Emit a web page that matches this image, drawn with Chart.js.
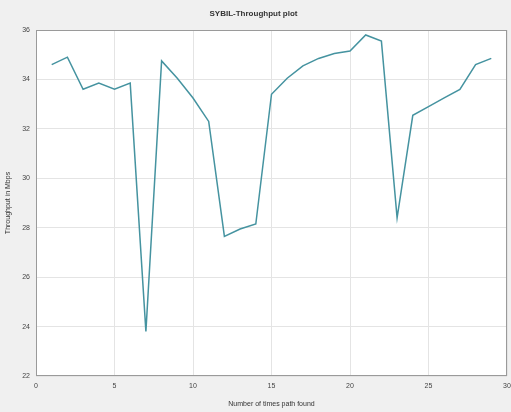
<!DOCTYPE html>
<html>
<head>
<meta charset="utf-8">
<script src="https://cdn.jsdelivr.net/npm/chart.js@4"></script>
<style>
  html, body { margin: 0; padding: 0; background: #f0f0f0; overflow: hidden; }
  canvas { display: block; }
</style>
</head>
<body>
<canvas id="chart" width="511" height="412"></canvas>
<script>
// data
const paths = [1, 2, 3, 4, 5, 6, 7, 8, 9, 10, 11, 12, 13, 14, 15, 16, 17, 18, 19, 20, 21, 22, 23, 24, 25, 26, 27, 28, 29];
const throughput = [34.6, 34.9, 33.6, 33.85, 33.6, 33.85, 23.8, 34.75, 34.05, 33.25, 32.3, 27.65, 27.95, 28.15,
                    33.4, 34.05, 34.55, 34.85, 35.05, 35.15, 35.8, 35.55, 28.4, 32.55, 32.9, 33.25, 33.6, 34.6, 34.85];
const xTicks = [0, 5, 10, 15, 20, 25, 30];
const yTicks = [22, 24, 26, 28, 30, 32, 34, 36];

// white plot area, matlab style
const plotBg = {
    id: "plotBg",
    beforeDraw(c) {
        const a = c.chartArea;
        c.ctx.save();
        c.ctx.fillStyle = "#ffffff";
        c.ctx.fillRect(a.left, a.top, a.right - a.left, a.bottom - a.top);
        c.ctx.restore();
    },
    afterDraw(c) {
        const a = c.chartArea;
        c.ctx.save();
        c.ctx.strokeStyle = "#9a9a9a";
        c.ctx.lineWidth = 1;
        c.ctx.strokeRect(a.left + 0.5, a.top + 0.5, a.right - a.left - 1, a.bottom - a.top - 1);
        c.ctx.restore();
    }
};

const tickFont = { family: "Liberation Sans", size: 7 };

new Chart(document.getElementById("chart"), {
    type: "line",
    data: {
        datasets: [{
            data: paths.map((p, i) => ({ x: p, y: throughput[i] })),
            borderColor: "#4593a0",
            borderWidth: 1.5,
            pointRadius: 0,
            tension: 0
        }]
    },
    options: {
        responsive: false,
        animation: false,
        layout: { padding: { right: 4 } },
        plugins: {
            legend: { display: false },
            tooltip: { enabled: false },
            title: {
                display: true,
                text: "SYBIL-Throughput plot",
                color: "#333",
                font: { family: "Liberation Sans", size: 8, weight: "bold" },
                padding: { top: 9, bottom: 11.4 }
            }
        },
        scales: {
            x: {
                type: "linear",
                min: 0, max: 30,
                afterBuildTicks: s => { s.ticks = xTicks.map(v => ({ value: v })); },
                afterFit: s => { s.height = 36; s.paddingRight = 0; s.paddingLeft = 0; },
                grid: { color: "#e4e4e4", drawTicks: false },
                border: { display: false },
                ticks: { color: "#444", font: tickFont, padding: 6 },
                title: {
                    display: true,
                    text: "Number of times path found",
                    color: "#333",
                    font: { family: "Liberation Sans", size: 7 },
                    padding: { top: 2 }
                }
            },
            y: {
                min: 22, max: 36,
                afterBuildTicks: s => { s.ticks = yTicks.map(v => ({ value: v })); },
                afterFit: s => { s.width = 36; },
                grid: { color: "#e4e4e4", drawTicks: false },
                border: { display: false },
                ticks: { color: "#444", font: tickFont, padding: 6 },
                title: {
                    display: true,
                    text: "Throughput in Mbps",
                    color: "#333",
                    font: { family: "Liberation Sans", size: 7 },
                    padding: { bottom: 2 }
                }
            }
        }
    },
    plugins: [plotBg]
});
</script>
</body>
</html>
